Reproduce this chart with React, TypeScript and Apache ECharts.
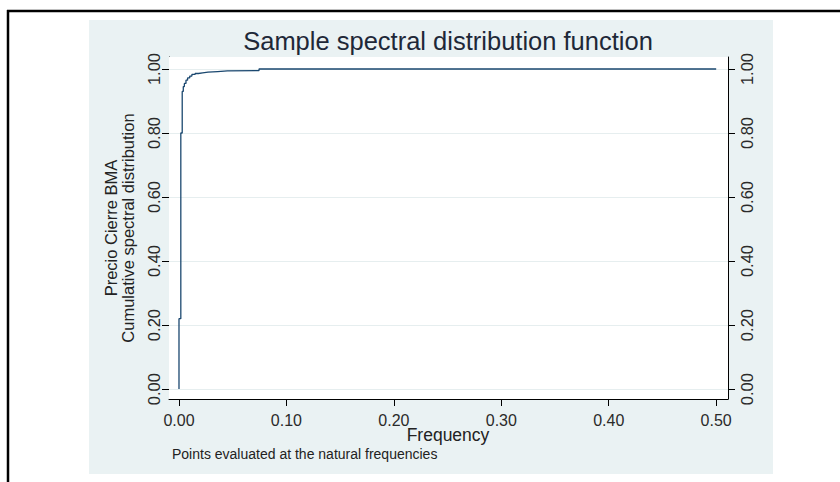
import React, { useEffect, useRef } from "react";
import * as echarts from "echarts";

const freq = [0, 0, 0.0017, 0.003, 0.004, 0.005, 0.0065, 0.008, 0.01, 0.012, 0.015, 0.018, 0.022, 0.027, 0.036, 0.045, 0.0745, 0.5];
const cdf = [0, 0.22, 0.8, 0.93, 0.945, 0.955, 0.965, 0.972, 0.978, 0.983, 0.986, 0.988, 0.99, 0.992, 0.994, 0.995, 1.0, 1.0];
const xTicks = [0, 0.1, 0.2, 0.3, 0.4, 0.5];
const yTicks = [0, 0.2, 0.4, 0.6, 0.8, 1.0];

const titleText = "Sample spectral distribution function";
const xTitle = "Frequency";
const yTitle1 = "Precio Cierre BMA";
const yTitle2 = "Cumulative spectral distribution";
const noteText = "Points evaluated at the natural frequencies";

const FONT = "'Liberation Sans', Arial, sans-serif";
const BG = "#eaf2f3";
const GRIDC = "#e6eeef";
const LINEC = "#1a476f";
const TXT = "#2a2a2a";

export default function App() {
  const ref = useRef<HTMLDivElement>(null);
  useEffect(() => {
    document.body.style.margin = "0";
    const chart = echarts.init(ref.current!, null, { renderer: "svg" });
    const yAxisCommon = (pos: "left" | "right", margin: number) => ({
      type: "value",
      position: pos,
      min: -0.031,
      max: 1.0375,
      axisLine: { show: true, onZero: false, lineStyle: { color: "#000", width: 1 } },
      axisTick: { show: true, length: 7, customValues: yTicks, lineStyle: { color: "#000" } },
      axisLabel: {
        show: true,
        customValues: yTicks,
        rotate: 90,
        margin,
        fontSize: 16.5,
        fontFamily: FONT,
        color: TXT,
        formatter: (v: number) => v.toFixed(2),
      },
      splitLine: { show: false },
    });
    chart.setOption({
      animation: false,
      backgroundColor: "#fff",
      grid: {
        left: 169,
        right: 112,
        top: 57,
        bottom: 83,
        show: true,
        backgroundColor: "#fff",
        borderWidth: 0,
        z: 1,
      },
      xAxis: {
        type: "value",
        min: -0.0093,
        max: 0.511,
        axisLine: { show: true, onZero: false, lineStyle: { color: "#000", width: 1 } },
        axisTick: { show: true, length: 7, customValues: xTicks, lineStyle: { color: "#000" } },
        axisLabel: {
          show: true,
          customValues: xTicks,
          margin: 13,
          fontSize: 16,
          fontFamily: FONT,
          color: TXT,
          formatter: (v: number) => v.toFixed(2),
        },
        splitLine: { show: false },
      },
      yAxis: [yAxisCommon("left", 7), yAxisCommon("right", 10)],
      series: [
        {
          type: "line",
          step: "end",
          data: freq.map((f, i) => [f, cdf[i]]),
          showSymbol: false,
          symbol: "none",
          lineStyle: { color: LINEC, width: 1.3 },
          z: 3,
          markLine: {
            silent: true,
            symbol: ["none", "none"],
            label: { show: false },
            lineStyle: { color: GRIDC, type: "solid", width: 1.2 },
            z: 2,
            data: yTicks.map((v) => ({ yAxis: v })),
          },
        },
      ],
      graphic: [
        { type: "rect", z: -10, silent: true, shape: { x: 89, y: 20, width: 684, height: 454 }, style: { fill: BG } },
        {
          type: "text",
          z: 10,
          x: 448,
          y: 41,
          style: { text: titleText, fontSize: 25.5, fontFamily: FONT, fill: "#1e2838", align: "center", verticalAlign: "middle" },
        },
        {
          type: "text",
          z: 10,
          x: 448,
          y: 435,
          style: { text: xTitle, fontSize: 17.5, fontFamily: FONT, fill: "#222", align: "center", verticalAlign: "middle" },
        },
        {
          type: "text",
          z: 10,
          x: 172,
          y: 454,
          style: { text: noteText, fontSize: 14, fontFamily: FONT, fill: "#222", align: "left", verticalAlign: "middle" },
        },
        {
          type: "text",
          z: 10,
          x: 119,
          y: 228,
          rotation: Math.PI / 2,
          style: {
            text: yTitle1 + "\n" + yTitle2,
            fontSize: 16.5,
            lineHeight: 17,
            fontFamily: FONT,
            fill: "#222",
            align: "center",
            verticalAlign: "middle",
          },
        },
        { type: "line", z: 20, shape: { x1: 7, y1: 11, x2: 840, y2: 11 }, style: { stroke: "#000", lineWidth: 2.5 } },
        { type: "line", z: 20, shape: { x1: 8, y1: 10, x2: 8, y2: 482 }, style: { stroke: "#000", lineWidth: 2.5 } },
      ],
    });
    return () => chart.dispose();
  }, []);
  return <div ref={ref} style={{ width: 840, height: 482 }} />;
}
